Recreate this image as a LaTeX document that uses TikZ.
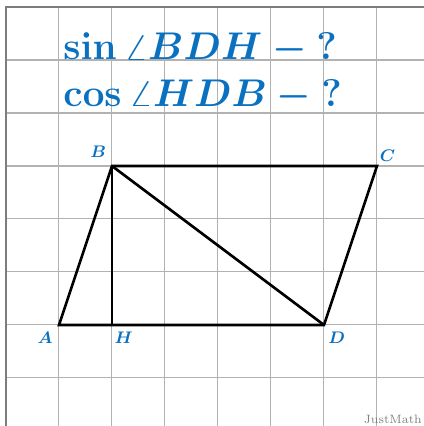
\documentclass[tikz,border=0pt]{standalone}
\usepackage{xcolor}
\usepackage{tikz}
\definecolor{labelblue}{RGB}{10,112,192}
\definecolor{gridgray}{RGB}{178,178,178}
\definecolor{framegray}{RGB}{125,125,125}

\begin{document}
\begin{tikzpicture}[line width=1.4pt,
    vlabel/.style={text=labelblue, font=\fontsize{9.5}{11}\selectfont\boldmath},
    question/.style={text=labelblue, anchor=base west, inner sep=0pt,
      font=\fontsize{20}{24}\selectfont\boldmath}]
  \useasboundingbox (-0.113,-0.906) rectangle (7.887,7.132);
  \draw[gridgray, line width=0.55pt] (0,-0.906) grid (7.887,7);
  \draw[framegray, line width=1.1pt] (0,-0.906) -- (0,7) -- (7.887,7);

  \node[question] (sinq) at (1.06,6) {$\sin\angle BDH -{} ?$};
  \node[question] (cosq) at (1.06,5.13) {$\cos\angle HDB -{} ?$};

  \coordinate (A) at (1,1);
  \coordinate (H) at (2,1);
  \coordinate (D) at (6,1);
  \coordinate (B) at (2,4);
  \coordinate (C) at (7,4);

  \draw (A) -- (D) -- (C) -- (B) -- cycle;
  \draw (B) -- (H);
  \draw (B) -- (D);

  \node[vlabel] (lA) at (0.74,0.75) {$A$};
  \node[vlabel] (lH) at (2.22,0.75) {$H$};
  \node[vlabel] (lD) at (6.24,0.75) {$D$};
  \node[vlabel] (lB) at (1.74,4.26) {$B$};
  \node[vlabel] (lC) at (7.2,4.19) {$C$};

  \node[text=gray, font=\fontsize{6.5}{8}\selectfont] (brand) at (7.3,-0.78) {JustMath};
\end{tikzpicture}
\end{document}
